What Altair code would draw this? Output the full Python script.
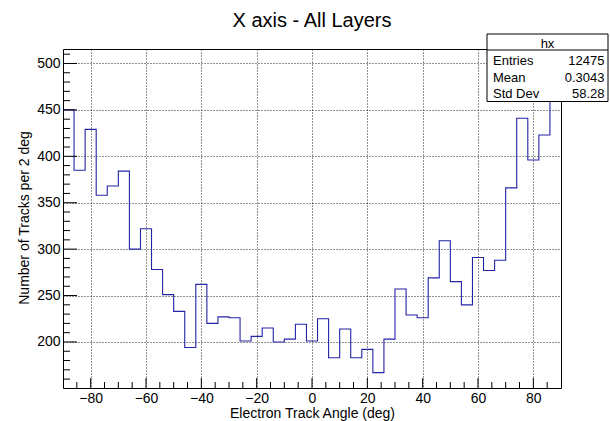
import altair as alt
import pandas as pd

# Histogram "hx": 45 bins of 4 deg between -90 and 90
bin_low_edges = list(range(-90, 90, 4))
counts = [
    450, 385, 429, 358, 368, 384, 300, 322, 278, 251,
    233, 194, 262, 220, 227, 226, 201, 206, 215, 200,
    203, 219, 201, 225, 183, 214, 183, 192, 167, 203,
    257, 229, 226, 269, 309, 265, 240, 291, 277, 288,
    366, 441, 396, 423, 499,
]

# Statistics box
stat_names = ["Entries", "Mean", "Std Dev"]
stat_values = ["12475", "0.3043", "58.28"]

x_major = [-80, -60, -40, -20, 0, 20, 40, 60, 80]
x_minor = [v for v in range(-85, 90, 5) if v not in x_major]
y_major = [200, 250, 300, 350, 400, 450, 500]
y_minor = [v for v in range(160, 520, 10) if v not in y_major]

W, H = 498, 339
FONT = "Liberation Sans"
LINE = "#2424a6"

# step outline: one point per bin edge, the last bin closed at x=90
hist = pd.DataFrame({
    "angle": bin_low_edges + [90],
    "count": counts + [counts[-1]],
})

x_scale = alt.Scale(domain=[-90, 90], nice=False, zero=False)
y_scale = alt.Scale(domain=[150.4, 515.6], nice=False, zero=False)

x_axis = alt.Axis(
    title="Electron Track Angle (deg)", values=x_major, format="d",
    ticks=False, tickSize=0, domain=False, grid=True,
    gridDash=[1, 2], gridColor="#000000", gridOpacity=0.85, gridWidth=1,
    labelFont=FONT, labelFontSize=14, labelColor="#000000", labelPadding=3,
    titleFont=FONT, titleFontSize=14, titleFontWeight="normal", titleColor="#000000",
    titleBaseline="alphabetic", titleY=29, titleX=W / 2,
)
y_axis = alt.Axis(
    title="Number of Tracks per 2 deg", values=y_major, format="d",
    ticks=False, tickSize=0, domain=False, grid=True,
    gridDash=[1, 2], gridColor="#000000", gridOpacity=0.85, gridWidth=1,
    labelFont=FONT, labelFontSize=14, labelColor="#000000", labelPadding=3,
    titleFont=FONT, titleFontSize=14, titleFontWeight="normal", titleColor="#000000",
    titleBaseline="alphabetic", titleX=-35, titleY=H / 2 - 1,
)

X = lambda f: alt.X(f, scale=x_scale, axis=x_axis)
Y = lambda f: alt.Y(f, scale=y_scale, axis=y_axis)

line = alt.Chart(hist).mark_line(
    interpolate="step-after", color=LINE, strokeWidth=1.1, clip=True
).encode(x=X("angle:Q"), y=Y("count:Q"))

# ticks drawn inward from the bottom and left frame edges
xt_major = alt.Chart(pd.DataFrame({"angle": x_major})).mark_rule(color="#000000").encode(
    x=X("angle:Q"), y=alt.value(H), y2=alt.value(H - 10))
xt_minor = alt.Chart(pd.DataFrame({"angle": x_minor})).mark_rule(color="#000000").encode(
    x=X("angle:Q"), y=alt.value(H), y2=alt.value(H - 6))
yt_major = alt.Chart(pd.DataFrame({"count": y_major})).mark_rule(color="#000000").encode(
    y=Y("count:Q"), x=alt.value(0), x2=alt.value(14))
yt_minor = alt.Chart(pd.DataFrame({"count": y_minor})).mark_rule(color="#000000").encode(
    y=Y("count:Q"), x=alt.value(0), x2=alt.value(7))

title = alt.Chart(pd.DataFrame({"t": ["X axis - All Layers"]})).mark_text(
    font=FONT, fontSize=20, color="#000000", align="center", baseline="alphabetic"
).encode(text="t:N", x=alt.value(W / 2), y=alt.value(-22.5))

# statistics box
bx0, bx1, by0, by1 = 424, 545, -15, 52.5
box = alt.Chart(pd.DataFrame({"b": [0]})).mark_rect(
    fill="#ffffff", stroke="#000000", strokeWidth=1
).encode(x=alt.value(bx0), x2=alt.value(bx1), y=alt.value(by0), y2=alt.value(by1))
sep = alt.Chart(pd.DataFrame({"b": [0]})).mark_rule(color="#000000").encode(
    x=alt.value(bx0), x2=alt.value(bx1), y=alt.value(1), y2=alt.value(1))
head = alt.Chart(pd.DataFrame({"t": ["hx"]})).mark_text(
    font=FONT, fontSize=13, color="#000000", align="center", baseline="alphabetic"
).encode(text="t:N", x=alt.value((bx0 + bx1) / 2), y=alt.value(-0.7))

stat_layers = []
for i, (name, val) in enumerate(zip(stat_names, stat_values)):
    yb = 16 + i * 16.7
    stat_layers.append(
        alt.Chart(pd.DataFrame({"t": [name]})).mark_text(
            font=FONT, fontSize=13, color="#000000", align="left", baseline="alphabetic"
        ).encode(text="t:N", x=alt.value(430), y=alt.value(yb))
    )
    stat_layers.append(
        alt.Chart(pd.DataFrame({"t": [val]})).mark_text(
            font=FONT, fontSize=13, color="#000000", align="right", baseline="alphabetic"
        ).encode(text="t:N", x=alt.value(541.5), y=alt.value(yb))
    )

chart = alt.layer(
    line, xt_major, xt_minor, yt_major, yt_minor, title, box, sep, head, *stat_layers
).properties(
    width=W, height=H,
    autosize=alt.AutoSizeParams(type="none"),
    padding={"left": 63, "top": 49, "right": 49, "bottom": 33},
    background="#ffffff",
).configure_view(
    stroke="#000000", strokeWidth=1
)

chart.save("out.html", embed_options={"renderer": "svg", "actions": False})
